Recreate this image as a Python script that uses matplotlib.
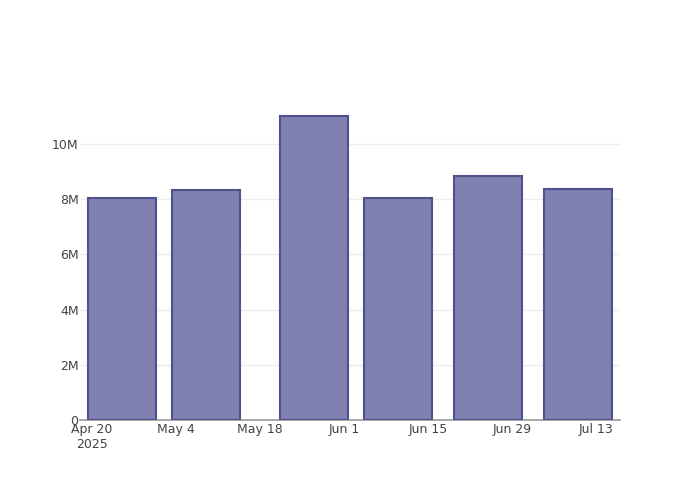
import matplotlib
matplotlib.use("Agg")
import matplotlib.pyplot as plt
import numpy as np
from datetime import datetime, timedelta

dates = ["2025-04-25", "2025-05-09", "2025-05-27", "2025-06-10", "2025-06-25", "2025-07-10"]
values = [8.05e6, 8.32e6, 11.01e6, 8.04e6, 8.86e6, 8.36e6]
xtick_dates = ["2025-04-20", "2025-05-04", "2025-05-18", "2025-06-01", "2025-06-15", "2025-06-29", "2025-07-13"]
ytick_vals = [0, 2e6, 4e6, 6e6, 8e6, 10e6]
ytick_labels = ["0", "2M", "4M", "6M", "8M", "10M"]

x = [datetime.strptime(d, "%Y-%m-%d") for d in dates]
xt = [datetime.strptime(d, "%Y-%m-%d") for d in xtick_dates]

fig = plt.figure(figsize=(7, 5), dpi=100)
ax = fig.add_axes([80/700, 80/500, 540/700, 320/500])

ax.bar(x, values, width=11.2, color="#7f7fb0", edgecolor="#50508c", linewidth=1.5, zorder=3)

ax.set_xlim(xt[0] - timedelta(days=2), xt[0] + timedelta(days=88))
ax.set_ylim(0, 11.6e6)

ax.set_xticks(xt)
labels = []
for i, d in enumerate(xt):
    s = d.strftime("%b ") + str(d.day)
    if i == 0:
        s += "\n" + d.strftime("%Y")
    labels.append(s)
ax.set_xticklabels(labels)
ax.set_yticks(ytick_vals)
ax.set_yticklabels(ytick_labels)

ax.tick_params(axis="x", colors="#444444", labelsize=9, length=0, pad=2)
ax.tick_params(axis="y", colors="#444444", labelsize=9, length=0, pad=1)
ax.grid(axis="y", color="#eeeeee", linewidth=1, zorder=0)
for s in ["top", "right", "left"]:
    ax.spines[s].set_visible(False)
ax.spines["bottom"].set_color("#999999")
ax.spines["bottom"].set_linewidth(1.2)

fig.savefig("out.png", dpi=100)
